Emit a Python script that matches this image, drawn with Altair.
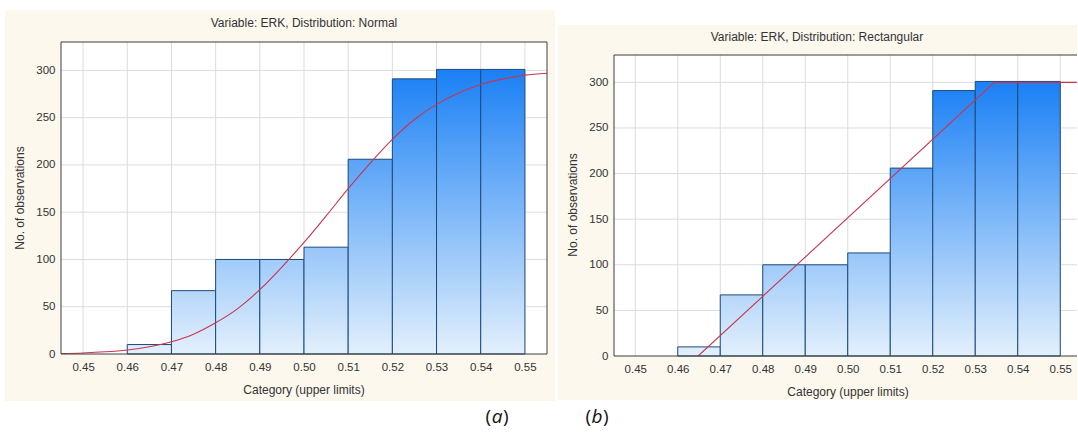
import altair as alt
import pandas as pd

# ---------------- data ----------------
bin_lower = [0.46, 0.47, 0.48, 0.49, 0.50, 0.51, 0.52, 0.53, 0.54]
bin_upper = [0.47, 0.48, 0.49, 0.50, 0.51, 0.52, 0.53, 0.54, 0.55]
counts = [10, 67, 100, 100, 113, 206, 291, 301, 301]

x_ticks = [0.45, 0.46, 0.47, 0.48, 0.49, 0.50, 0.51, 0.52, 0.53, 0.54, 0.55]
y_ticks = [0, 50, 100, 150, 200, 250, 300]

normal_x = [0.445, 0.45, 0.455, 0.46, 0.465, 0.47, 0.475, 0.48, 0.485, 0.49, 0.495, 0.50,
            0.505, 0.51, 0.515, 0.52, 0.525, 0.53, 0.535, 0.54, 0.545, 0.55, 0.555]
normal_y = [0.5, 1.1, 2.3, 4.3, 7.7, 13, 21, 33, 48, 68, 92, 118,
            146, 175, 202, 227, 248, 264, 276, 285, 291, 295, 297]

rect_x = [0.4648, 0.5345, 0.5539]
rect_y = [0, 300, 300]

title_a = "Variable: ERK, Distribution: Normal"
title_b = "Variable: ERK, Distribution: Rectangular"
x_title = "Category (upper limits)"
y_title = "No. of observations"

# ---------------- styles ----------------
FONT = "Liberation Sans"
BEIGE = "#fcf8ee"
GRID = "#dcdcdc"
TXT = "#333333"
BAR_STROKE = "#1d4a7a"
CURVE = "#c8354f"
C_BOT = (0xe3, 0xf0, 0xfc)
C_TOP = (0x1a, 0x80, 0xf5)


def lerp_color(t):
    t = max(0.0, min(1.0, t))
    c = [round(C_BOT[i] + (C_TOP[i] - C_BOT[i]) * t) for i in range(3)]
    return "#%02x%02x%02x" % tuple(c)


bars_df = pd.DataFrame({"i": list(range(len(counts))), "lo": bin_lower,
                        "hi": bin_upper, "n": counts})
xt_df = pd.DataFrame({"gx": x_ticks})
yt_df = pd.DataFrame({"gy": y_ticks[1:]})
one = alt.Data(values=[{"k": 1}])


def panel(W, H, plot_top, xmax, title, title_x, title_y, curve_df, curve_interp,
          beige, full_border, xt_y, yt_x, extra=None):
    xs = alt.Scale(domain=[0.445, xmax], nice=False, zero=False)
    ys = alt.Scale(domain=[0, 330], nice=False, range=[H, plot_top])
    ax_x = alt.Axis(values=x_ticks, format=".2f", grid=False, domain=False, ticks=False,
                    labelFont=FONT, labelFontSize=11.5, labelColor=TXT, labelPadding=7,
                    title=None, zindex=1, labelFlush=False)
    ax_y = alt.Axis(values=y_ticks, grid=False, domain=False, ticks=False,
                    labelFont=FONT, labelFontSize=11.5, labelColor=TXT, labelPadding=6,
                    title=None, zindex=1)

    def X(f):
        return alt.X(f, type="quantitative", scale=xs, axis=ax_x)

    def Y(f):
        return alt.Y(f, type="quantitative", scale=ys, axis=ax_y)

    bx0, bx1, by0, by1 = beige
    layers = []
    layers.append(alt.Chart(one).mark_rect(fill=BEIGE, clip=False).encode(
        x=alt.value(bx0), x2=alt.value(bx1), y=alt.value(by0), y2=alt.value(by1)))
    layers.append(alt.Chart(one).mark_rect(fill="white", clip=False).encode(
        x=alt.value(0), x2=alt.value(W), y=alt.value(plot_top), y2=alt.value(H)))
    layers.append(alt.Chart(xt_df).mark_rule(color=GRID, strokeWidth=1).encode(
        x=X("gx"), y=alt.value(plot_top), y2=alt.value(H)))
    layers.append(alt.Chart(yt_df).mark_rule(color=GRID, strokeWidth=1).encode(
        y=Y("gy"), x=alt.value(0), x2=alt.value(W)))
    for i, v in enumerate(counts):
        grad = alt.LinearGradient(
            gradient="linear", x1=0, x2=0, y1=0, y2=1,
            stops=[alt.GradientStop(color=lerp_color(v / 300.0), offset=0),
                   alt.GradientStop(color=lerp_color(0), offset=1)])
        layers.append(alt.Chart(bars_df).transform_filter(alt.datum.i == i).mark_rect(
            fill=grad, stroke=BAR_STROKE, strokeWidth=1).encode(
            x=X("lo"), x2="hi", y=Y("n"), y2=alt.datum(0)))
    layers.append(alt.Chart(curve_df).mark_line(color=CURVE, strokeWidth=1.1,
                                                interpolate=curve_interp, clip=True).encode(
        x=X("cx"), y=Y("cy")))
    if full_border:
        layers.append(alt.Chart(one).mark_rect(fillOpacity=0, stroke="#3c3c3c",
                                               strokeWidth=1, clip=False).encode(
            x=alt.value(0), x2=alt.value(W), y=alt.value(plot_top), y2=alt.value(H)))
    else:
        for (a, b, c, d) in [(0, 0, plot_top, H), (0, W, plot_top, plot_top), (0, W, H, H)]:
            layers.append(alt.Chart(one).mark_rule(color="#3c3c3c", strokeWidth=1,
                                                   clip=False).encode(
                x=alt.value(a), x2=alt.value(b), y=alt.value(c), y2=alt.value(d)))
    # titles
    layers.append(alt.Chart(one).mark_text(text=title, font=FONT, fontSize=12,
                                           color=TXT, align="center", baseline="middle").encode(
        x=alt.value(title_x), y=alt.value(title_y)))
    layers.append(alt.Chart(one).mark_text(text=x_title, font=FONT, fontSize=12,
                                           color=TXT, align="center", baseline="middle").encode(
        x=alt.value(xt_y[0]), y=alt.value(xt_y[1])))
    layers.append(alt.Chart(one).mark_text(text=y_title, font=FONT, fontSize=12,
                                           color=TXT, align="center", baseline="middle",
                                           angle=270).encode(
        x=alt.value(yt_x[0]), y=alt.value(yt_x[1])))
    if extra:
        layers.extend(extra)
    return alt.layer(*layers).properties(width=W, height=H)


def label_marks(cx, cy, letter):
    out = []
    out.append(alt.Chart(one).mark_text(text="(", font="Open Sans", fontSize=19, color="#111",
                                        align="right", baseline="middle").encode(
        x=alt.value(cx - 6), y=alt.value(cy)))
    out.append(alt.Chart(one).mark_text(text=letter, font="Open Sans", fontSize=19, color="#111",
                                        fontStyle="italic", align="center",
                                        baseline="middle").encode(
        x=alt.value(cx), y=alt.value(cy)))
    out.append(alt.Chart(one).mark_text(text=")", font="Open Sans", fontSize=19, color="#111",
                                        align="left", baseline="middle").encode(
        x=alt.value(cx + 6), y=alt.value(cy)))
    return out


curve_a = pd.DataFrame({"cx": normal_x, "cy": normal_y})
curve_b = pd.DataFrame({"cx": rect_x, "cy": rect_y})

W_A, H_A = 486, 312
W_B, H_B = 463, 314

extra_a = label_marks(436, 375, "a") + label_marks(536, 375, "b")

pa = panel(W_A, H_A, 0, 0.555, title_a, 243, -19, curve_a, "monotone",
           (-56, 494, -32, 359), True, (243, 348), (-41, 156), extra_a)
pb = panel(W_B, H_B, 13, 0.55394, title_b, 203, -5, curve_b, "linear",
           (-56, W_B, -17, 358), False, (234, 350), (-41, 163))

chart = alt.hconcat(pa, pb, spacing=67, bounds="flush").properties(
    padding={"left": 5, "top": 10, "right": 0, "bottom": 4},
    background="white",
).configure_view(strokeWidth=0)

chart.save("out.html", embed_options={"renderer": "svg", "actions": False})
